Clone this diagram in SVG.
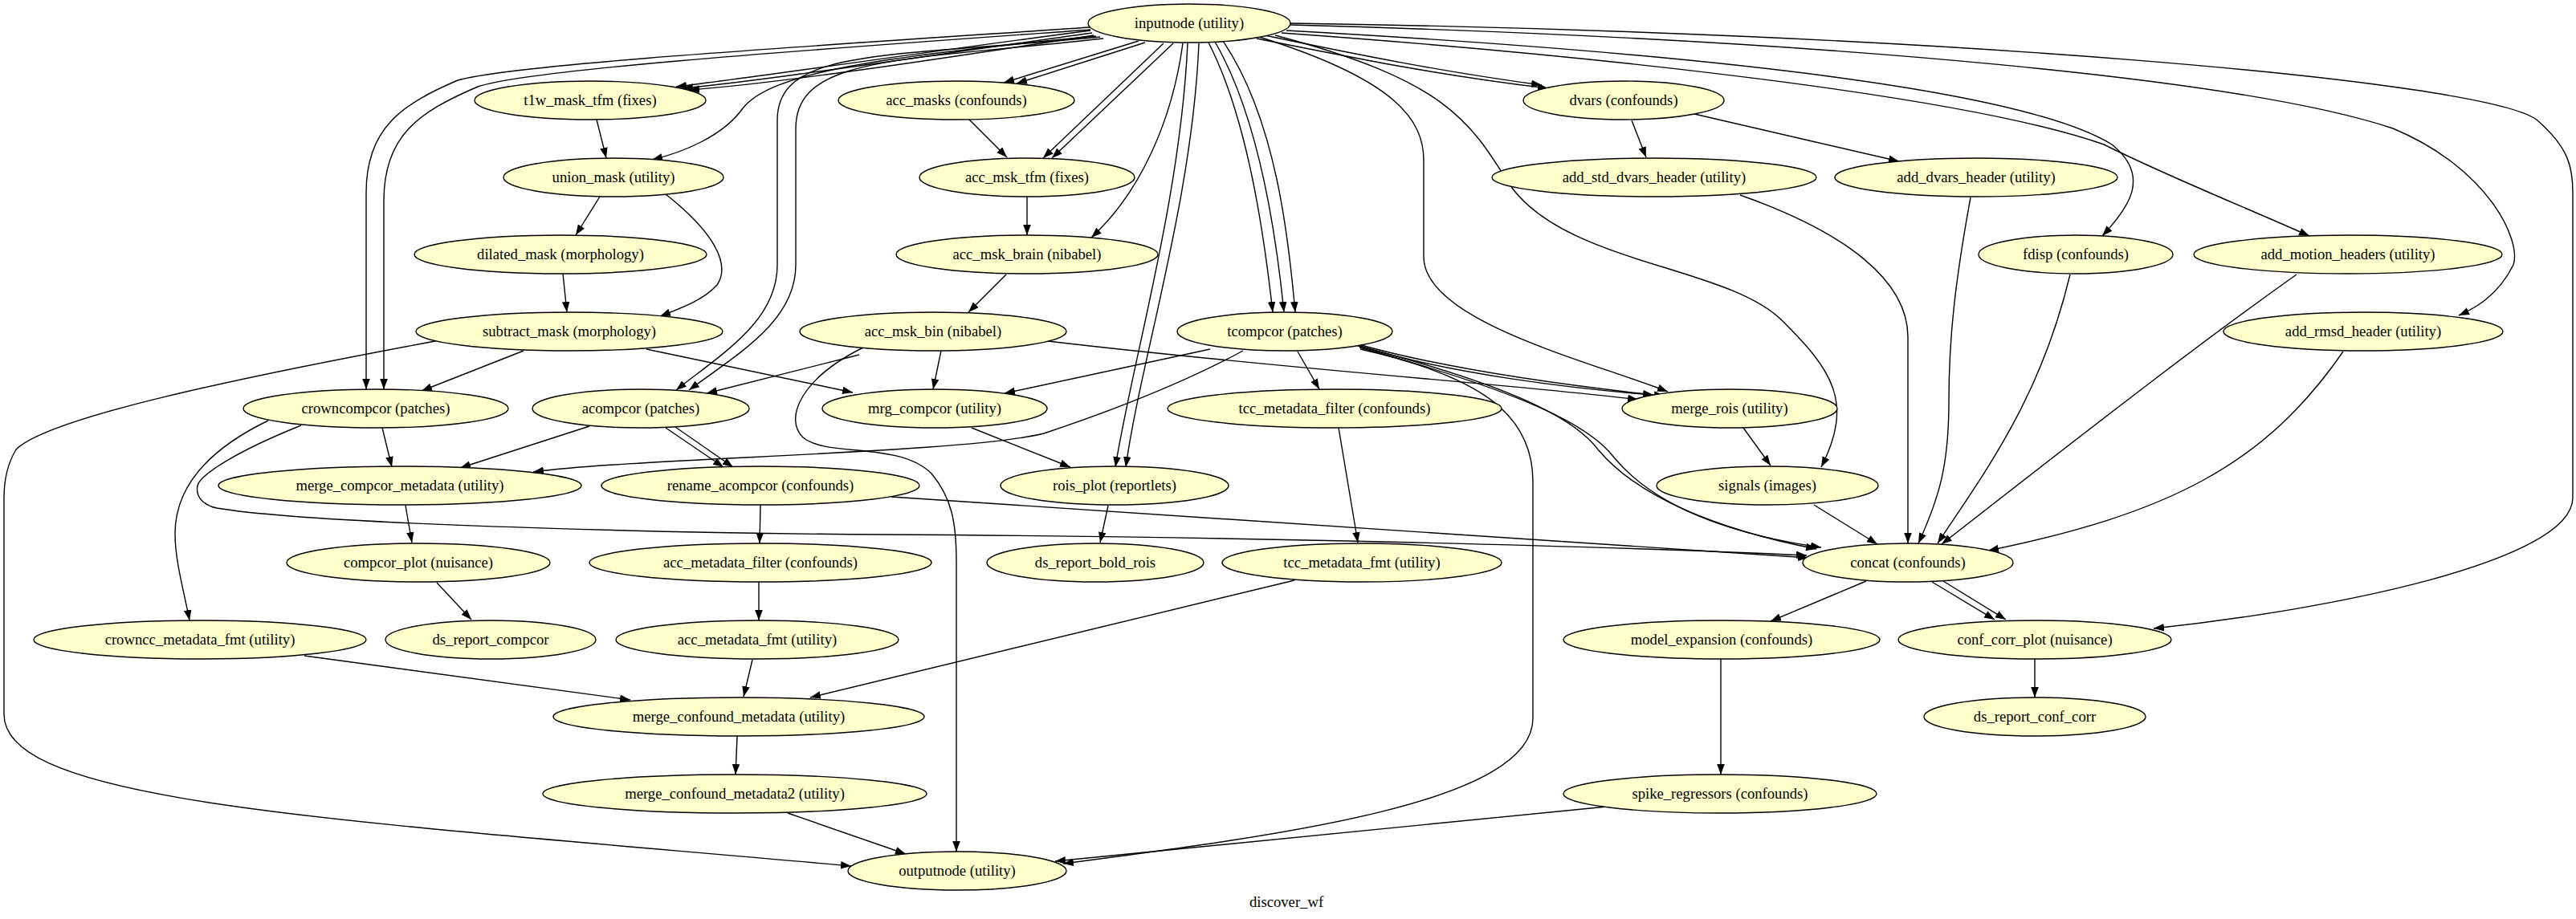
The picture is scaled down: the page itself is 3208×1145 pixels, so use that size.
<svg xmlns="http://www.w3.org/2000/svg" width="3208" height="1145" viewBox="0 0 3208 1145">
<style>
.n ellipse{fill:#ffffcc;stroke:#000;stroke-width:1.4}
.n text,.t{font-family:"Liberation Serif","Times New Roman",serif;font-size:18.67px;text-anchor:middle;fill:#000}
#edges path{fill:none;stroke:#000;stroke-width:1.4;marker-end:url(#a)}
</style>
<defs><marker id="a" markerUnits="userSpaceOnUse" markerWidth="14" markerHeight="10" refX="13" refY="4.8" orient="auto"><path d="M0,0 L13,4.8 L0,9.6 z" fill="#000"/></marker></defs>
<rect width="3208" height="1145" fill="#fff"/>
<g id="edges">
<path d="M1358,38 C1150,65 950,95 842,108"/>
<path d="M1360,41 C1150,70 955,100 850,110"/>
<path d="M1362,44 C1160,75 960,105 858,112"/>
<path d="M1357,34 C1000,58 640,80 570,100 C500,130 456,160 456,240 L456,485"/>
<path d="M1358,37 C1010,62 660,86 595,108 C520,140 478,170 478,250 L478,485"/>
<path d="M1365,45 C1100,70 960,90 925,135 C900,170 850,190 812,199"/>
<path d="M1370,46 C1100,72 968,60 968,150 L968,330 C968,400 900,440 842,486"/>
<path d="M1374,48 C1120,76 991,70 991,160 L991,330 C991,400 920,440 858,486"/>
<path d="M1418,51 L1250,103"/>
<path d="M1426,53 L1266,104"/>
<path d="M1449,54 L1299,197"/>
<path d="M1461,54 L1310,197"/>
<path d="M1473,54 C1460,150 1420,240 1359,296"/>
<path d="M1479,54 C1470,250 1410,450 1389,582"/>
<path d="M1493,54 C1485,250 1420,450 1402,582"/>
<path d="M1505,53 C1555,150 1575,300 1585,389"/>
<path d="M1513,52 C1570,150 1590,300 1599,389"/>
<path d="M1523,51 C1590,150 1605,300 1613,389"/>
<path d="M1568,46 C1740,100 1773,150 1773,200 L1773,320 C1773,400 1980,450 2077,488"/>
<path d="M1588,44 C1800,100 1830,150 1880,230 C1950,330 2150,330 2220,400 C2280,460 2310,500 2268,582"/>
<path d="M1570,43 C1700,70 1800,90 1920,106"/>
<path d="M1565,48 C1700,75 1800,95 1928,110"/>
<path d="M1602,38 C2000,60 2500,100 2630,180 C2680,220 2650,260 2618,294"/>
<path d="M1596,41 C2000,70 2450,120 2620,180 C2700,220 2800,260 2876,294"/>
<path d="M1607,31 C2300,50 2800,100 2980,160 C3100,210 3140,300 3130,330 C3110,370 3080,385 3062,393"/>
<path d="M1607,29 C2400,40 3100,100 3160,150 C3200,185 3204,210 3204,240 L3204,620 C3204,700 2900,760 2682,783"/>
<path d="M743,149 L755,197"/>
<path d="M747,245 L717,293"/>
<path d="M829,242 C890,290 910,330 893,355 C875,375 845,385 822,394"/>
<path d="M701,341 L706,389"/>
<path d="M652,437 L525,487"/>
<path d="M805,435 L1062,489"/>
<path d="M542,425 C300,470 60,520 20,560 C8,580 5,600 5,620 L5,890 C5,1000 400,1020 1060,1079"/>
<path d="M1206,148 L1254,196"/>
<path d="M1279,245 L1279,293"/>
<path d="M1253,342 L1206,389"/>
<path d="M1070,442 L880,490"/>
<path d="M1172,437 L1162,485"/>
<path d="M1305,425 C1600,460 1900,480 2040,498"/>
<path d="M1075,433 C1000,470 975,520 1000,545 C1030,570 1120,550 1160,590 C1185,620 1191,650 1191,700 L1191,1061"/>
<path d="M1548,437 C1450,490 1330,530 1300,540 C1200,565 800,570 664,588"/>
<path d="M1507,435 L1251,490"/>
<path d="M1616,438 L1643,485"/>
<path d="M1688,428 C1800,460 1950,480 2059,492"/>
<path d="M1690,430 C1800,465 1960,485 2073,493"/>
<path d="M1691,431 C1880,480 1960,520 1990,560 C2040,620 2140,660 2262,684"/>
<path d="M1693,433 C1900,490 1980,530 2010,570 C2060,630 2150,665 2268,682"/>
<path d="M1694,435 C1850,470 1909,520 1909,600 L1909,895 C1909,1000 1600,1040 1324,1076"/>
<path d="M476,533 L488,582"/>
<path d="M334,524 C270,555 218,600 218,665 C218,700 230,740 236,773"/>
<path d="M375,530 C300,560 250,590 246,605 C243,620 255,630 270,633 C400,655 900,665 1100,666 C1500,668 2000,680 2250,692"/>
<path d="M734,531 L573,583"/>
<path d="M829,533 L901,582"/>
<path d="M841,532 L913,582"/>
<path d="M1210,533 L1333,582"/>
<path d="M1380,630 L1370,676"/>
<path d="M505,630 L513,676"/>
<path d="M544,726 L587,772"/>
<path d="M947,629 L946,677"/>
<path d="M1110,619 C1600,650 2000,680 2252,695"/>
<path d="M945,725 L945,773"/>
<path d="M937,822 L926,868"/>
<path d="M379,817 L785,872"/>
<path d="M1667,533 L1691,676"/>
<path d="M1612,723 L1009,869"/>
<path d="M918,917 L916,965"/>
<path d="M981,1013 L1128,1064"/>
<path d="M2171,533 L2205,580"/>
<path d="M2259,629 L2338,678"/>
<path d="M2032,150 L2050,196"/>
<path d="M2110,142 L2365,201"/>
<path d="M2167,243 C2300,290 2376,350 2376,420 L2376,677"/>
<path d="M2454,246 C2435,350 2427,420 2427,500 C2427,580 2415,620 2389,677"/>
<path d="M2578,342 C2540,500 2470,590 2413,677"/>
<path d="M2860,342 C2750,420 2620,520 2418,678"/>
<path d="M2918,438 C2820,580 2700,640 2476,686"/>
<path d="M2324,724 L2205,774"/>
<path d="M2406,725 L2484,772"/>
<path d="M2420,724 L2498,772"/>
<path d="M2143,821 L2143,965"/>
<path d="M2001,1005 L1314,1073"/>
<path d="M2534,821 L2534,869"/>
</g>
<g id="inputnode" class="n"><ellipse cx="1481" cy="29" rx="126" ry="24"/><text x="1481" y="35">inputnode (utility)</text></g>
<g id="t1w_mask_tfm" class="n"><ellipse cx="735" cy="125" rx="144" ry="24"/><text x="735" y="131">t1w_mask_tfm (fixes)</text></g>
<g id="acc_masks" class="n"><ellipse cx="1191" cy="125" rx="147" ry="24"/><text x="1191" y="131">acc_masks (confounds)</text></g>
<g id="dvars" class="n"><ellipse cx="2022" cy="125" rx="125" ry="24"/><text x="2022" y="131">dvars (confounds)</text></g>
<g id="union_mask" class="n"><ellipse cx="764" cy="221" rx="137" ry="24"/><text x="764" y="227">union_mask (utility)</text></g>
<g id="acc_msk_tfm" class="n"><ellipse cx="1279" cy="221" rx="134" ry="24"/><text x="1279" y="227">acc_msk_tfm (fixes)</text></g>
<g id="add_std_dvars_header" class="n"><ellipse cx="2060" cy="221" rx="202" ry="24"/><text x="2060" y="227">add_std_dvars_header (utility)</text></g>
<g id="add_dvars_header" class="n"><ellipse cx="2461" cy="221" rx="176" ry="24"/><text x="2461" y="227">add_dvars_header (utility)</text></g>
<g id="dilated_mask" class="n"><ellipse cx="698" cy="317" rx="182" ry="24"/><text x="698" y="323">dilated_mask (morphology)</text></g>
<g id="acc_msk_brain" class="n"><ellipse cx="1279" cy="317" rx="163" ry="24"/><text x="1279" y="323">acc_msk_brain (nibabel)</text></g>
<g id="fdisp" class="n"><ellipse cx="2585" cy="317" rx="121" ry="24"/><text x="2585" y="323">fdisp (confounds)</text></g>
<g id="add_motion_headers" class="n"><ellipse cx="2924" cy="317" rx="192" ry="24"/><text x="2924" y="323">add_motion_headers (utility)</text></g>
<g id="subtract_mask" class="n"><ellipse cx="709" cy="413" rx="191" ry="24"/><text x="709" y="419">subtract_mask (morphology)</text></g>
<g id="acc_msk_bin" class="n"><ellipse cx="1162" cy="413" rx="166" ry="24"/><text x="1162" y="419">acc_msk_bin (nibabel)</text></g>
<g id="tcompcor" class="n"><ellipse cx="1600" cy="413" rx="134" ry="24"/><text x="1600" y="419">tcompcor (patches)</text></g>
<g id="add_rmsd_header" class="n"><ellipse cx="2943" cy="413" rx="174" ry="24"/><text x="2943" y="419">add_rmsd_header (utility)</text></g>
<g id="crowncompcor" class="n"><ellipse cx="468" cy="509" rx="165" ry="24"/><text x="468" y="515">crowncompcor (patches)</text></g>
<g id="acompcor" class="n"><ellipse cx="798" cy="509" rx="135" ry="24"/><text x="798" y="515">acompcor (patches)</text></g>
<g id="mrg_compcor" class="n"><ellipse cx="1164" cy="509" rx="140" ry="24"/><text x="1164" y="515">mrg_compcor (utility)</text></g>
<g id="tcc_metadata_filter" class="n"><ellipse cx="1662" cy="509" rx="208" ry="24"/><text x="1662" y="515">tcc_metadata_filter (confounds)</text></g>
<g id="merge_rois" class="n"><ellipse cx="2154" cy="509" rx="134" ry="24"/><text x="2154" y="515">merge_rois (utility)</text></g>
<g id="merge_compcor_metadata" class="n"><ellipse cx="498" cy="605" rx="226" ry="24"/><text x="498" y="611">merge_compcor_metadata (utility)</text></g>
<g id="rename_acompcor" class="n"><ellipse cx="947" cy="605" rx="198" ry="24"/><text x="947" y="611">rename_acompcor (confounds)</text></g>
<g id="rois_plot" class="n"><ellipse cx="1388" cy="605" rx="142" ry="24"/><text x="1388" y="611">rois_plot (reportlets)</text></g>
<g id="signals" class="n"><ellipse cx="2201" cy="605" rx="138" ry="24"/><text x="2201" y="611">signals (images)</text></g>
<g id="compcor_plot" class="n"><ellipse cx="521" cy="701" rx="164" ry="24"/><text x="521" y="707">compcor_plot (nuisance)</text></g>
<g id="acc_metadata_filter" class="n"><ellipse cx="947" cy="701" rx="213" ry="24"/><text x="947" y="707">acc_metadata_filter (confounds)</text></g>
<g id="ds_report_bold_rois" class="n"><ellipse cx="1364" cy="701" rx="135" ry="24"/><text x="1364" y="707">ds_report_bold_rois</text></g>
<g id="tcc_metadata_fmt" class="n"><ellipse cx="1696" cy="701" rx="174" ry="24"/><text x="1696" y="707">tcc_metadata_fmt (utility)</text></g>
<g id="concat" class="n"><ellipse cx="2376" cy="701" rx="131" ry="24"/><text x="2376" y="707">concat (confounds)</text></g>
<g id="crowncc_metadata_fmt" class="n"><ellipse cx="249" cy="797" rx="207" ry="24"/><text x="249" y="803">crowncc_metadata_fmt (utility)</text></g>
<g id="ds_report_compcor" class="n"><ellipse cx="611" cy="797" rx="131" ry="24"/><text x="611" y="803">ds_report_compcor</text></g>
<g id="acc_metadata_fmt" class="n"><ellipse cx="943" cy="797" rx="176" ry="24"/><text x="943" y="803">acc_metadata_fmt (utility)</text></g>
<g id="model_expansion" class="n"><ellipse cx="2144" cy="797" rx="197" ry="24"/><text x="2144" y="803">model_expansion (confounds)</text></g>
<g id="conf_corr_plot" class="n"><ellipse cx="2534" cy="797" rx="170" ry="24"/><text x="2534" y="803">conf_corr_plot (nuisance)</text></g>
<g id="merge_confound_metadata" class="n"><ellipse cx="920" cy="893" rx="231" ry="24"/><text x="920" y="899">merge_confound_metadata (utility)</text></g>
<g id="ds_report_conf_corr" class="n"><ellipse cx="2534" cy="893" rx="138" ry="24"/><text x="2534" y="899">ds_report_conf_corr</text></g>
<g id="merge_confound_metadata2" class="n"><ellipse cx="915" cy="989" rx="239" ry="24"/><text x="915" y="995">merge_confound_metadata2 (utility)</text></g>
<g id="spike_regressors" class="n"><ellipse cx="2142" cy="989" rx="195" ry="24"/><text x="2142" y="995">spike_regressors (confounds)</text></g>
<g id="outputnode" class="n"><ellipse cx="1192" cy="1085" rx="136" ry="24"/><text x="1192" y="1091">outputnode (utility)</text></g>
<text class="t" x="1602" y="1130">discover_wf</text>
</svg>
